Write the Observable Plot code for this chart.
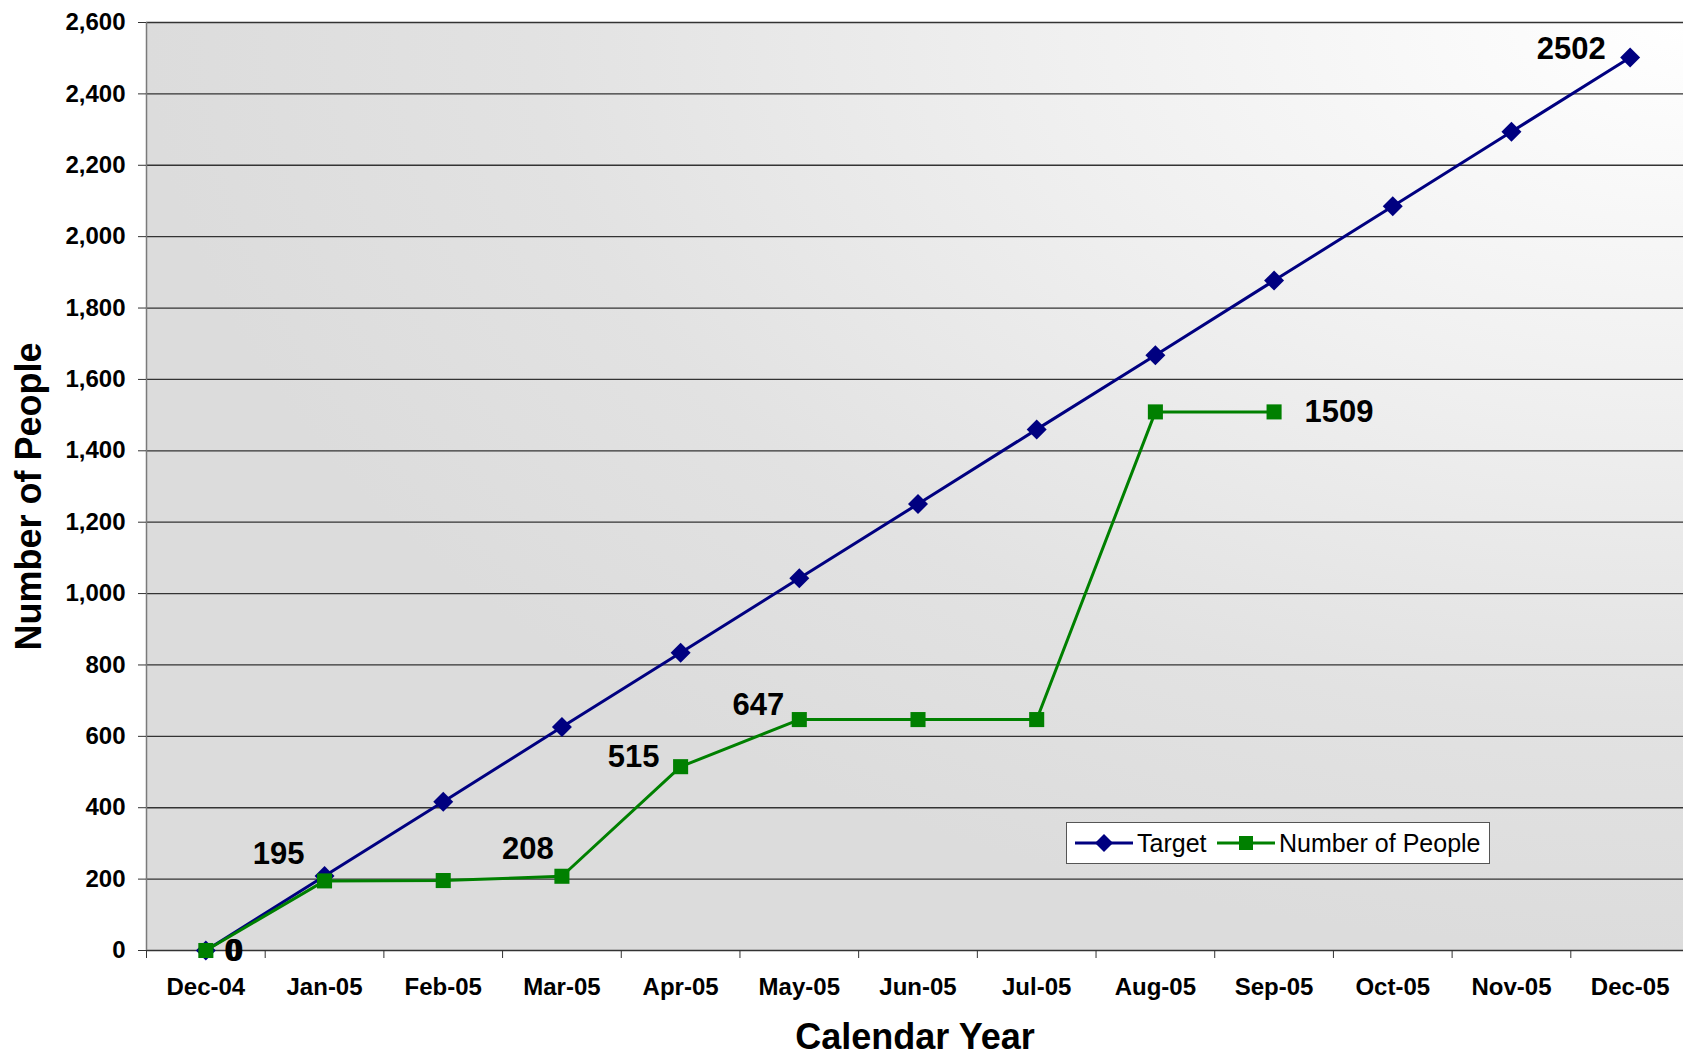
<!DOCTYPE html>
<html>
<head>
<meta charset="utf-8">
<script src="https://cdn.jsdelivr.net/npm/d3@7"></script>
<script src="https://cdn.jsdelivr.net/npm/@observablehq/plot@0.6"></script>
<style>
  html, body { margin: 0; padding: 0; background: #ffffff; }
  #wrap { position: relative; width: 1683px; height: 1056px; overflow: hidden;
          font-family: "Liberation Sans", Arial, sans-serif; }
  #wrap svg { position: absolute; left: 0; top: 0; }
  #legend { position: absolute; left: 1066px; top: 822px; width: 422px; height: 40px;
            background: #ffffff; border: 1px solid #555555; }
  #legend .item { position: absolute; top: 0; height: 40px; display: flex; align-items: center;
                  font-size: 25px; color: #000; white-space: nowrap; }
  #legend .item svg { position: static; margin-right: 4px; }
</style>
</head>
<body>
<div id="wrap"></div>
<script>
// ---------- data ----------
const months = ["Dec-04", "Jan-05", "Feb-05", "Mar-05", "Apr-05", "May-05", "Jun-05",
                "Jul-05", "Aug-05", "Sep-05", "Oct-05", "Nov-05", "Dec-05"];
const targetValues = [0, 209, 417, 626, 834, 1043, 1251, 1460, 1668, 1877, 2085, 2294, 2502];
const peopleValues = [0, 195, 196, 208, 515, 647, 647, 647, 1509, 1509];
const yTicks = [0, 200, 400, 600, 800, 1000, 1200, 1400, 1600, 1800, 2000, 2200, 2400, 2600];
const seriesNames = ["Target", "Number of People"];
// data labels: month, value, series
const labelMonths = ["Dec-04", "Dec-04", "Jan-05", "Mar-05", "Apr-05", "May-05", "Sep-05", "Dec-05"];
const labelValues = [0, 0, 195, 208, 515, 647, 1509, 2502];
const labelSeries = ["Target", "Number of People", "Number of People", "Number of People",
                     "Number of People", "Number of People", "Number of People", "Target"];

// ---------- styling / placement (not data) ----------
const colors = {"Target": "#000080", "Number of People": "#008000"};
const labelOffsets = [[27, 1], [29, 1], [-46, -27], [-34, -27], [-47, -10], [-41, -14], [65, 0], [-59, -8]];
const font = '"Liberation Sans", Arial, sans-serif';

const tData = months.map((m, i) => ({i, m, v: targetValues[i]}));
const pData = peopleValues.map((v, i) => ({i, m: months[i], v}));
const labels = labelMonths.map((m, k) => ({i: months.indexOf(m), v: labelValues[k], s: labelSeries[k]}));

const labelMarks = labels.map((d, k) => Plot.text([d], {
  x: "i", y: "v", text: r => String(r.v),
  dx: labelOffsets[k][0], dy: labelOffsets[k][1],
  fontSize: 31, fontWeight: "bold", fill: "#000",
  textAnchor: "middle", lineAnchor: "middle"
}));

const chart = Plot.plot({
  width: 1683,
  height: 1056,
  marginLeft: 146,
  marginTop: 22,
  marginBottom: 106,
  marginRight: 0,
  style: {fontFamily: font, background: "transparent", overflow: "visible", color: "#000"},
  x: {domain: [-0.5, months.length - 0.5], range: [146, 1689]},
  y: {domain: [0, 2600]},
  marks: [
    Plot.frame({fill: "url(#plotBg)", stroke: null}),
    Plot.ruleY(yTicks, {stroke: "#333333", strokeWidth: 1.3}),
    Plot.ruleX([-0.5], {stroke: "#7a7a7a", strokeWidth: 1.5}),
    Plot.axisY({ticks: yTicks, tickFormat: d3.format(","), tickSize: 8, tickPadding: 13,
                fontSize: 24, fontWeight: "bold", label: null, stroke: "#333"}),
    Plot.axisX({ticks: d3.range(-0.5, months.length), tickFormat: () => "", tickSize: 8,
                label: null, stroke: "#333"}),
    Plot.axisX({ticks: d3.range(months.length), tickFormat: i => months[i], tickSize: 0,
                tickPadding: 27, fontSize: 24, fontWeight: "bold", label: null}),
    Plot.text(["Calendar Year"], {text: d => d, frameAnchor: "bottom", dy: 87, lineAnchor: "middle",
                fontSize: 36, fontWeight: "bold"}),
    Plot.text(["Number of People"], {text: d => d, frameAnchor: "left", dx: -117, dy: 10, rotate: -90,
                textAnchor: "middle", lineAnchor: "middle", fontSize: 36, fontWeight: "bold"}),
    Plot.line(tData, {x: "i", y: "v", stroke: colors["Target"], strokeWidth: 3}),
    Plot.dot(tData, {x: "i", y: "v", symbol: "diamond2", r: 9, fill: colors["Target"], stroke: null}),
    Plot.line(pData, {x: "i", y: "v", stroke: colors["Number of People"], strokeWidth: 3}),
    Plot.dot(pData, {x: "i", y: "v", symbol: "square", r: 8.5, fill: colors["Number of People"], stroke: null}),
    ...labelMarks
  ]
});

const svg = chart.tagName.toLowerCase() === "svg" ? chart : chart.querySelector("svg");
const defs = d3.select(svg).insert("defs", ":first-child");
const grad = defs.append("radialGradient").attr("id", "plotBg")
  .attr("cx", 1).attr("cy", 0).attr("r", 1).attr("fx", 1).attr("fy", 0);
[[0, "#ffffff"], [0.4, "#f0f0f0"], [0.75, "#e2e2e2"], [1, "#dcdcdc"]].forEach(([o, c]) =>
  grad.append("stop").attr("offset", o).attr("stop-color", c));
d3.select(svg).selectAll('g[aria-label="frame"], g[aria-label="frame"] rect, rect[aria-label="frame"]')
  .attr("fill", "url(#plotBg)");

const wrap = document.getElementById("wrap");
wrap.appendChild(chart);

// ---------- legend ----------
const legend = document.createElement("div");
legend.id = "legend";
const legendLeft = [8, 150];
seriesNames.forEach((name, k) => {
  const item = document.createElement("div");
  item.className = "item";
  item.style.left = legendLeft[k] + "px";
  const c = colors[name];
  const marker = k === 0
    ? `<path d="M29,1 L38,10 L29,19 L20,10 Z" fill="${c}"/>`
    : `<rect x="22" y="3" width="14" height="14" fill="${c}"/>`;
  item.innerHTML = `<svg width="58" height="20" viewBox="0 0 58 20"><line x1="0" y1="10" x2="58" y2="10" stroke="${c}" stroke-width="3"/>${marker}</svg><span>${name}</span>`;
  legend.appendChild(item);
});
wrap.appendChild(legend);
</script>
</body>
</html>
